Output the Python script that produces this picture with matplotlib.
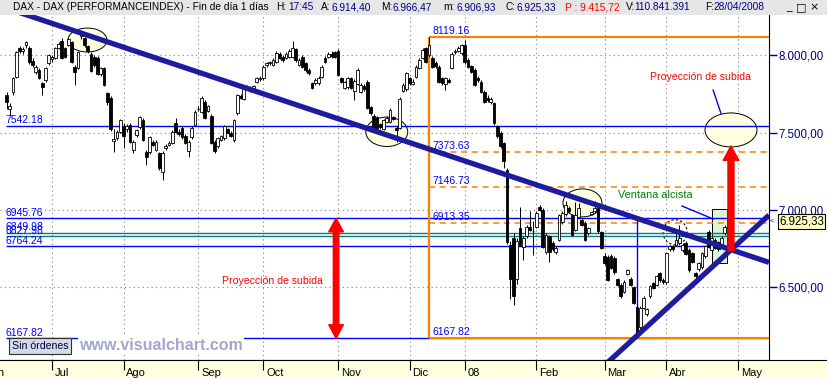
import numpy as np
import pandas as pd
import matplotlib
matplotlib.use('Agg')
import matplotlib.pyplot as plt
from matplotlib.patches import Ellipse, Rectangle
from matplotlib.ticker import FuncFormatter

plt.rcParams['font.family'] = ['Liberation Sans', 'DejaVu Sans']

# ---- daily DAX candles, 12 Jun 2007 .. 28 Apr 2008 ----
opens = [
    7740, 7650, 7760, 7860, 8045, 8025, 8065, 8045, 7965, 7893, 7905, 7820, 7840, 7950,
    7975, 7985, 8050, 8095, 8045, 8070, 8085, 7925, 7920, 8125, 8110, 8060, 8010, 7990, 7985, 7880, 7915, 7755, 7725, 7445, 7465, 7505,
    7540, 7520, 7550, 7390, 7485, 7535, 7580, 7375, 7375, 7440, 7390, 7365, 7245, 7400, 7420, 7435, 7560, 7505, 7530, 7480, 7380, 7470, 7550,
    7650, 7635, 7700, 7640, 7610, 7440, 7410, 7455, 7465, 7520, 7500, 7455, 7625, 7735, 7720, 7785, 7770, 7790, 7830, 7845,
    7850, 7935, 7950, 7940, 7960, 8010, 7990, 7985, 7990, 7990, 8040, 7940, 7990, 7950, 7905, 7820, 7820, 7820, 7860, 7985, 7990, 8010, 8020,
    8030, 7850, 7790, 7795, 7850, 7770, 7815, 7765, 7800, 7830, 7665, 7610, 7600, 7555, 7525, 7570, 7570, 7600, 7530, 7530, 7770, 7780,
    7850, 7815, 7860, 7920, 7985, 8045, 8000, 7985, 7950, 7925, 7850, 7815, 7840, 7920, 8020, 8030, 8015,
    8065, 7970, 7930, 7905, 7855, 7830, 7765, 7725, 7695, 7690, 7540, 7500, 7430, 7260, 6770, 6820, 6550, 6885, 6760, 6830, 6890, 6860,
    6890, 7020, 7000, 6730, 6830, 6785, 6730, 6805, 6920, 6970, 7010, 6965, 6870, 6955, 6935, 6915, 6850, 6975, 6990, 7015, 6855,
    6700, 6697, 6700, 6690, 6550, 6515, 6470, 6585, 6550, 6500, 6370, 6240, 6365, 6325, 6440, 6525, 6515, 6590, 6545,
    6530, 6745, 6765, 6775, 6785, 6740, 6785, 6740, 6720, 6590, 6615, 6630, 6700, 6855, 6740, 6805, 6790, 6780, 6850, 6914.40,
]
highs = [
    7760, 7690, 7860, 8030, 8060, 8055, 8095, 8060, 7985, 7940, 7920, 7830, 7925, 8010,
    8000, 8055, 8085, 8110, 8055, 8115, 8095, 7935, 8030, 8151, 8120, 8070, 8020, 8000, 7995, 7925, 7925, 7765, 7735, 7520, 7515, 7590,
    7560, 7555, 7560, 7450, 7525, 7610, 7595, 7390, 7480, 7455, 7450, 7375, 7380, 7425, 7445, 7515, 7595, 7520, 7545, 7490, 7450, 7540, 7645,
    7670, 7735, 7710, 7680, 7620, 7450, 7470, 7485, 7550, 7530, 7510, 7590, 7750, 7750, 7800, 7810, 7800, 7810, 7860, 7865,
    7935, 7960, 7965, 7980, 8025, 8020, 8000, 8020, 8040, 8090, 8050, 7980, 8000, 7960, 7915, 7830, 7850, 7865, 7935, 7995, 8020, 8025, 8030,
    8040, 7860, 7835, 7860, 7860, 7845, 7920, 7820, 7815, 7840, 7675, 7620, 7610, 7565, 7590, 7605, 7660, 7610, 7545, 7730, 7820, 7895,
    7860, 7845, 7935, 7980, 8045, 8055, 8119.16, 7995, 7965, 7935, 7860, 7860, 7850, 8020, 8040, 8060, 8075,
    8100, 7980, 7940, 7915, 7865, 7840, 7775, 7740, 7730, 7700, 7550, 7510, 7440, 7270, 6800, 6850, 6820, 7020, 6830, 6900, 6990, 6930,
    6990, 7030, 7010, 6850, 6840, 6800, 6765, 6975, 6990, 7060, 7025, 6975, 7050, 7045, 6945, 6925, 6890, 6995, 7060, 7030, 6865,
    6720, 6710, 6715, 6700, 6560, 6525, 6545, 6620, 6565, 6510, 6380, 6375, 6440, 6365, 6515, 6535, 6580, 6600, 6560,
    6730, 6775, 6775, 6870, 6900, 6785, 6795, 6750, 6730, 6600, 6665, 6730, 6775, 6870, 6830, 6815, 6800, 6830, 6900, 6966.47,
]
lows = [
    7655, 7615, 7740, 7850, 8015, 8010, 8050, 7945, 7925, 7880, 7845, 7745, 7830, 7935,
    7960, 7975, 8040, 7975, 7980, 8060, 7950, 7808, 7910, 8105, 8055, 8015, 7890, 7925, 7870, 7865, 7800, 7680, 7510, 7375, 7450, 7495,
    7400, 7505, 7430, 7370, 7470, 7525, 7445, 7290, 7360, 7410, 7380, 7260, 7194, 7390, 7410, 7425, 7495, 7480, 7460, 7425, 7340, 7460, 7540,
    7640, 7625, 7585, 7630, 7425, 7370, 7400, 7445, 7455, 7495, 7470, 7440, 7615, 7715, 7710, 7775, 7760, 7780, 7820, 7835,
    7840, 7925, 7940, 7930, 7950, 7975, 7960, 7975, 7980, 7980, 7960, 7930, 7915, 7895, 7875, 7780, 7810, 7810, 7850, 7950, 7980, 7985, 7980,
    7865, 7820, 7780, 7785, 7780, 7711, 7805, 7755, 7770, 7650, 7615, 7510, 7505, 7525, 7515, 7560, 7560, 7580, 7440, 7520, 7760, 7770,
    7810, 7805, 7850, 7910, 7975, 7950, 7990, 7915, 7920, 7820, 7810, 7776, 7820, 7910, 8010, 8020, 8005,
    7945, 7915, 7885, 7800, 7830, 7755, 7690, 7700, 7685, 7550, 7465, 7400, 7270, 6780, 6420, 6385, 6520, 6765, 6678, 6820, 6860, 6710,
    6880, 6990, 6750, 6715, 6660, 6735, 6715, 6795, 6910, 6960, 6980, 6830, 6860, 6945, 6895, 6795, 6840, 6965, 6980, 6850, 6745,
    6640, 6540, 6615, 6585, 6505, 6430, 6460, 6575, 6505, 6390, 6167.82, 6225, 6355, 6310, 6430, 6485, 6505, 6535, 6520,
    6520, 6735, 6735, 6765, 6775, 6730, 6705, 6600, 6655, 6555, 6605, 6620, 6690, 6750, 6730, 6745, 6735, 6770, 6840, 6906.93,
]
closes = [
    7695, 7672, 7850, 8020, 8025, 8040, 8085, 7955, 7935, 7926, 7855, 7795, 7915, 8000,
    7990, 8045, 8075, 7985, 7990, 8105, 7960, 7895, 8020, 8140, 8065, 8025, 7900, 7940, 7880, 7915, 7810, 7695, 7520, 7460, 7505, 7580,
    7480, 7540, 7440, 7440, 7517, 7600, 7453, 7345, 7470, 7420, 7440, 7270, 7370, 7410, 7435, 7505, 7505, 7490, 7470, 7435, 7440, 7530, 7635,
    7655, 7725, 7595, 7670, 7435, 7380, 7465, 7475, 7540, 7500, 7480, 7580, 7740, 7725, 7790, 7800, 7790, 7800, 7850, 7855,
    7925, 7950, 7955, 7970, 8015, 7985, 7970, 8010, 8030, 8045, 7970, 7970, 7925, 7905, 7885, 7790, 7840, 7855, 7925, 7960, 8010, 7995, 7990,
    7875, 7830, 7825, 7850, 7790, 7835, 7905, 7810, 7780, 7660, 7625, 7520, 7520, 7535, 7580, 7595, 7645, 7590, 7515, 7720, 7810, 7885,
    7820, 7830, 7925, 7970, 8035, 7960, 8065, 7925, 7930, 7830, 7820, 7850, 7830, 8010, 8030, 8050, 8065,
    7955, 7925, 7895, 7810, 7840, 7765, 7700, 7710, 7720, 7560, 7475, 7410, 7315, 6790, 6550, 6440, 6800, 6775, 6820, 6890, 6870, 6865,
    6980, 7000, 6760, 6840, 6730, 6745, 6755, 6965, 6980, 7030, 6990, 6840, 6965, 7010, 6905, 6805, 6880, 6985, 7015, 6860, 6755,
    6655, 6548, 6625, 6595, 6515, 6440, 6535, 6610, 6515, 6400, 6180, 6365, 6430, 6355, 6505, 6495, 6570, 6545, 6530,
    6720, 6765, 6745, 6805, 6820, 6775, 6715, 6610, 6665, 6570, 6655, 6720, 6765, 6760, 6820, 6755, 6745, 6820, 6890, 6925.33,
]

first_day = '2007-06-12'
holidays = ['2007-12-24', '2007-12-25', '2007-12-26', '2007-12-31', '2008-01-01',
            '2008-03-21', '2008-03-24', '2008-05-01']
month_names = {1: '08', 2: 'Feb', 3: 'Mar', 4: 'Abr', 5: 'May', 6: 'Jun', 7: 'Jul',
               8: 'Ago', 9: 'Sep', 10: 'Oct', 11: 'Nov', 12: 'Dic'}
price_ticks = [6500, 7000, 7500, 8000]

# drawn studies (index position, price)
level_lines = [7542.18, 6945.76, 6764.24, 6167.82]
teal_lines = [6849.98, 6827.98]
fib_levels = [8119.16, 7373.63, 7146.73, 6913.35, 6167.82]
fib_anchor = 130                      # day of the 8119.16 high
proj_day = 194                        # day of the 6167.82 low
trend_down = ([0, 234.6], [8305, 6660])
trend_up = ([185, 234.6], [6013, 6966])
ellipses = [(24.9, 8099, 12.0, 155), (117.0, 7505, 12.9, 190),
            (177.2, 7045, 12.0, 181), (222.9, 7517, 16.0, 220)]
dashed_ellipse = (205.7, 6855, 7.4, 162)
window_box = (217.1, 6657, 4.6, 349)
pointer_line = ([207.8, 217.4], [7025, 6941])
label_line = ([217.4, 219.8], [7775, 7626])
arrow_left = (101.4, 6167.82, 6945.76)
arrow_right = (222.9, 6735, 7414)

# ---------------------------------------------------------------------------
W, H = 828, 378
fig = plt.figure(figsize=(W / 100, H / 100), dpi=100)
fig.patch.set_facecolor('white')


def fx(px):
    return px / W


def fy(py):
    return 1 - py / H


def de(v):
    # 6925.33 -> 6.925,33
    return f'{v:,.2f}'.replace(',', 'X').replace('.', ',').replace('X', '.')


navy = '#000080'
blue = '#0000ff'
orange = '#ff8000'
XL = (-2.0, 234.6)
YL = (6028, 8261)

o = np.array(opens)
h = np.array(highs)
l = np.array(lows)
c = np.array(closes)
idx = np.arange(len(c))

cal = pd.bdate_range('2007-06-01', '2008-05-30')
cal = cal[~cal.isin(pd.to_datetime(holidays))]
start = cal.get_loc(pd.Timestamp(first_day))
cal_pos = np.arange(len(cal)) - start
firsts = pd.Series(cal_pos, index=cal).groupby([cal.year, cal.month]).first()
month_pos = [p for (y, m), p in firsts.items() if (y, m) <= (2008, 5)]
month_lab = [month_names[m] for (y, m), p in firsts.items() if (y, m) <= (2008, 5)]
grid_pos = [p for p in month_pos if XL[0] < p < XL[1]]

ax = fig.add_axes([0, fy(360), fx(769), fy(15) - fy(360)])
ax.set_facecolor('white')
for s in ['left', 'top']:
    ax.spines[s].set_visible(False)
ax.spines['right'].set_color('black')
ax.spines['bottom'].set_color('black')

ax.yaxis.tick_right()
ax.set_yticks(price_ticks)
ax.yaxis.set_major_formatter(FuncFormatter(lambda v, _: de(v)))
ax.tick_params(axis='y', direction='out', length=6, width=1, color=navy,
               labelcolor=navy, labelsize=8.3, pad=1)
ax.set_xticks(grid_pos)
ax.tick_params(axis='x', length=0, labelbottom=False)
ax.grid(True, color='#808080', linestyle=(0, (1, 3)), lw=0.8)
ax.set_axisbelow(True)

# analysis shapes below the candles
for cx, cy, ew, eh in ellipses:
    ax.add_patch(Ellipse((cx, cy), ew, eh, fc='#ffffe0', ec='black', lw=0.7, zorder=1))
cx, cy, ew, eh = dashed_ellipse
ax.add_patch(Ellipse((cx, cy), ew, eh, fc='none', ec='black', lw=0.8, ls=(0, (2, 2)), zorder=1))
bx, by, bw, bh = window_box
ax.add_patch(Rectangle((bx, by), bw, bh, fc='#dff5d8', ec='black', lw=0.7, zorder=1))

ax.hlines(level_lines, -0.2, XL[1], colors=blue, lw=1, zorder=2)
ax.hlines(teal_lines, -0.2, XL[1], colors='#008080', lw=1, zorder=2)
for lv in level_lines + teal_lines:
    ax.annotate(f'{lv:.2f}', (-0.4, lv), xytext=(0, 0.5), textcoords='offset points',
                va='bottom', ha='left', color=blue, fontsize=7.5, zorder=7)

# fibonacci
ax.vlines(fib_anchor, fib_levels[-1], fib_levels[0], colors=orange, lw=1.6, zorder=2)
for k, lv in enumerate(fib_levels):
    solid = k in (0, len(fib_levels) - 1)
    ax.hlines(lv, fib_anchor, XL[1], colors=orange, lw=1.5 if solid else 1.1,
              linestyles='solid' if solid else (0, (4, 3)), zorder=2)
    ax.annotate(f'{lv:.2f}', (fib_anchor + 1.0, lv), xytext=(0, 1), textcoords='offset points',
                va='bottom', ha='left', color=blue, fontsize=7.5, zorder=7)

ax.vlines(proj_day, level_lines[-1], level_lines[1], colors=blue, lw=1, zorder=2)

# candles
up = c >= o
ax.vlines(idx, l, h, color='black', lw=0.7, zorder=3)
bot = np.minimum(o, c)
hgt = np.abs(c - o)
ax.bar(idx[up], hgt[up], bottom=bot[up], width=0.8, facecolor='white',
       edgecolor='black', lw=0.6, zorder=4)
ax.bar(idx[~up], hgt[~up], bottom=bot[~up], width=0.8, facecolor='black',
       edgecolor='black', lw=0.6, zorder=4)

# trend lines
ax.plot(*trend_down, color='#1c1c9c', lw=3.8, solid_capstyle='butt', zorder=5)
ax.plot(*trend_up, color='#1c1c9c', lw=3.8, solid_capstyle='butt', zorder=5)
ax.plot(*pointer_line, color=blue, lw=1, zorder=5)
ax.plot(*label_line, color=blue, lw=1, zorder=5)

# red projection arrows
ax_x, lo, hi = arrow_left
mid = (lo + hi) / 2
for end in (lo, hi):
    ax.annotate('', xy=(ax_x, end), xytext=(ax_x, mid),
                arrowprops=dict(arrowstyle='simple,head_length=0.7,head_width=0.75,tail_width=0.28',
                                color='#ff0000', mutation_scale=14, shrinkA=0, shrinkB=0), zorder=6)
ar_x, lo, hi = arrow_right
ax.annotate('', xy=(ar_x, hi), xytext=(ar_x, lo),
            arrowprops=dict(arrowstyle='simple,head_length=0.65,head_width=0.7,tail_width=0.27',
                            color='#ff0000', mutation_scale=16, shrinkA=0, shrinkB=0), zorder=6)

ax.text(81.7, 6539, 'Proyección de subida', color='#ff0000', fontsize=7.6,
        ha='center', va='center', zorder=7)
ax.text(213.4, 7859, 'Proyección de subida', color='#ff0000', fontsize=7.6,
        ha='center', va='center', zorder=7)
ax.text(199.5, 7095, 'Ventana alcista', color='#008000', fontsize=7.8,
        ha='center', va='center', zorder=7)

# last price tag
last = closes[-1]
ax.annotate(de(last), xy=(1.0, last), xycoords=('axes fraction', 'data'), xytext=(7.2, 0),
            textcoords='offset points', va='center', ha='left', fontsize=8.3, color='black',
            bbox=dict(boxstyle='square,pad=0.1', fc='#ffffc0', ec='black', lw=0.8),
            annotation_clip=False, zorder=8)
ax.annotate('<', xy=(1.0, last), xycoords=('axes fraction', 'data'), xytext=(0.3, 0),
            textcoords='offset points', va='center', ha='left', fontsize=5, color=navy,
            annotation_clip=False)

ax.set_xlim(*XL)
ax.set_ylim(*YL)

# date band
band = fig.add_axes([0, 0, 1, fy(360)])
band.set_facecolor('#ffffe0')
for s in ['left', 'right', 'bottom']:
    band.spines[s].set_visible(False)
band.spines['top'].set_color('black')
band.xaxis.set_ticks_position('top')
band.set_xticks(month_pos)
band.tick_params(axis='x', direction='in', length=7, width=0.8, color='black', labeltop=False)
band.set_yticks([])
for p, name in zip(month_pos, month_lab):
    band.text(p + 0.9, 0.3, name, ha='left', va='center', fontsize=8, color='black')
band.set_xlim(XL[0], XL[0] + (XL[1] - XL[0]) * W / 769)
band.set_ylim(0, 1)

# title bar
fig.patches.append(Rectangle((0, fy(15)), 1, 15 / H, transform=fig.transFigure,
                             fc='#e6e6e6', ec='none', zorder=0))
title_segs = [
    (13, 'DAX - DAX (PERFORMANCEINDEX) - Fin de día 1 días', 'black'),
    (276, 'H:', 'black'), (288, '17:45', navy),
    (321, 'A:', 'black'), (332, de(opens[-1]), navy),
    (381, 'M:', 'black'), (393, de(highs[-1]), navy),
    (443, 'm:', 'black'), (457, de(lows[-1]), navy),
    (506, 'C:', 'black'), (517, de(closes[-1]), navy),
    (565, 'P : 9.415,72', '#ff0000'),
    (626, 'V:', 'black'), (634, '110.841.391', navy),
    (705, 'F:', 'black'), (713, '28/04/2008', navy),
]
for px_, s, col in title_segs:
    fig.text(fx(px_), fy(7.5), s, ha='left', va='center', fontsize=7.3, color=col)
for px_, s in [(789, '_'), (801, '□'), (814, '×')]:
    fig.text(fx(px_), fy(7.5), s, ha='center', va='center', fontsize=8, color='black',
             family=['DejaVu Sans'])

# bottom-left widgets
fig.text(fx(40), fy(346), 'Sin órdenes', ha='center', va='center', fontsize=7.6, color='#000040',
         bbox=dict(boxstyle='square,pad=0.25', fc='#d3dbe6', ec='#303030', lw=0.8))
fig.text(fx(161), fy(345.5), 'www.visualchart.com', ha='center', va='center', fontsize=11.5,
         fontweight='bold', color='#a3a6cf',
         bbox=dict(boxstyle='square,pad=0.05', fc='white', ec='none'))

fig.savefig('out.png', dpi=100)
